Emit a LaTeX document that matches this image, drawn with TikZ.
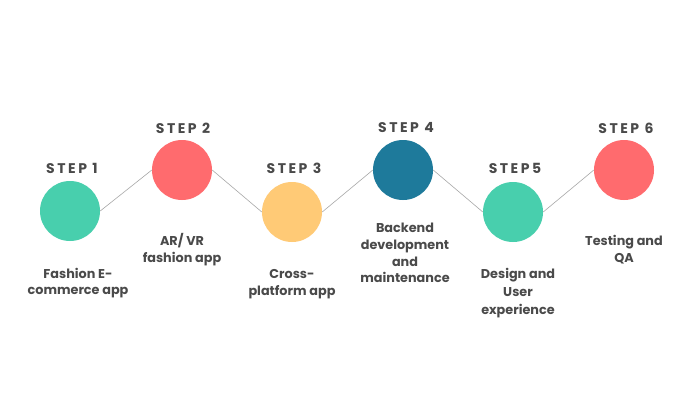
\documentclass[tikz,border=0pt]{standalone}
\usepackage{fontspec}
\setmainfont{Poppins}
\usepackage{xcolor}
\definecolor{Mint}{HTML}{48CFAD}
\definecolor{Coral}{HTML}{FF6B6E}
\definecolor{Sand}{HTML}{FFCA76}
\definecolor{Ocean}{HTML}{1E7A9B}
\definecolor{Ink}{HTML}{4A4A4A}
\definecolor{Wire}{HTML}{A8A8A8}
\tikzset{
 dot/.style={circle, minimum size=60pt, inner sep=0pt},
 steplabel/.style={font=\fontsize{14}{16}\selectfont\bfseries\addfontfeatures{LetterSpace=18}, text=Ink},
 caption/.style={font=\fontsize{12.8}{16.8}\selectfont\bfseries, text=Ink, align=center},
 link/.style={draw=Wire, line width=0.6pt}
}
\begin{document}
\begin{tikzpicture}[x=1pt,y=-1pt]
\useasboundingbox (0,0) rectangle (700,400);
\fill[white] (0,0) rectangle (700,400);
% circles
\node[dot, fill=Mint] (c1) at (70,211) {};
\node[dot, fill=Coral] (c2) at (182,170) {};
\node[dot, fill=Sand] (c3) at (292,212) {};
\node[dot, fill=Ocean] (c4) at (403,170) {};
\node[dot, fill=Mint] (c5) at (513,212) {};
\node[dot, fill=Coral] (c6) at (624,170) {};
% zigzag, side to side
\draw[link] (c1.east) -- (c2.west);
\draw[link] (c2.east) -- (c3.west);
\draw[link] (c3.east) -- (c4.west);
\draw[link] (c4.east) -- (c5.west);
\draw[link] (c5.east) -- (c6.west);
% step labels
\node[steplabel] (s1) at (72,168) {STEP 1};
\node[steplabel] (s2) at (183,128) {STEP 2};
\node[steplabel] (s3) at (294,168) {STEP 3};
\node[steplabel] (s4) at (406,128) {STEP 4};
\node[steplabel] (s5) at (515,168) {STEP5};
\node[steplabel] (s6) at (626,128) {STEP 6};
% captions
\node[caption] (t1) at (78,283) {Fashion E-\\commerce app};
\node[caption] (t2) at (182,250) {AR/ VR\\fashion app};
\node[caption] (t3) at (292,284) {Cross-\\platform app};
\node[caption] (t4) at (405,253) {Backend\\development\\and\\maintenance};
\node[caption] (t5) at (518,293) {Design and\\[1.5pt]User\\[1.5pt]experience};
\node[caption] (t6) at (624,250) {Testing and\\QA};
\end{tikzpicture}
\end{document}
